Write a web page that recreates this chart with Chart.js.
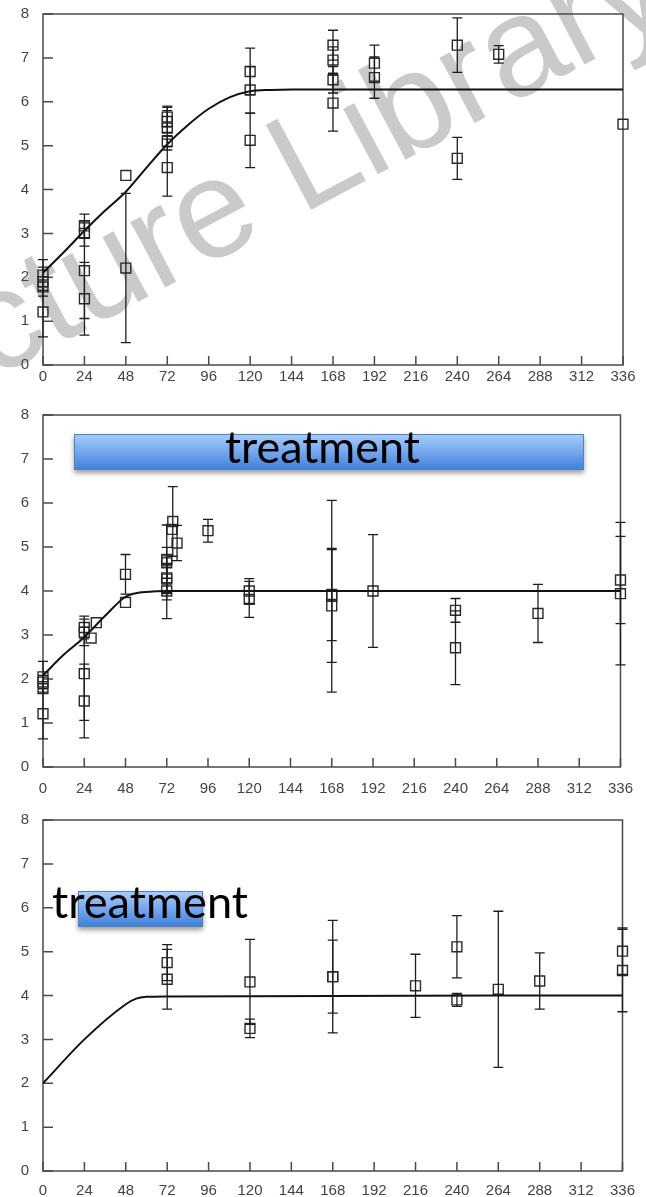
<!DOCTYPE html>
<html>
<head>
<meta charset="utf-8">
<script src="https://cdn.jsdelivr.net/npm/chart.js@4.4.1/dist/chart.umd.min.js"></script>
<style>
  body { margin: 0; background: #fff; width: 646px; height: 1197px; overflow: hidden; position: relative; }
  canvas { position: absolute; left: 0; }
</style>
</head>
<body>
<canvas id="mark" width="646" height="1197" style="top:0"></canvas>
<canvas id="c1" width="646" height="401" style="top:-9px"></canvas>
<canvas id="c2" width="646" height="405" style="top:392px"></canvas>
<canvas id="c3" width="646" height="400" style="top:797px"></canvas>
<canvas id="over" width="646" height="1197" style="top:0"></canvas>
<script>
// ---- axis ticks
var xTicks = [0, 24, 48, 72, 96, 120, 144, 168, 192, 216, 240, 264, 288, 312, 336];
var yTicks = [0, 1, 2, 3, 4, 5, 6, 7, 8];

// ---- panel 1 (top)
var p1Hours  = [0, 0, 0, 0, 24, 24, 24, 24, 48, 48, 72, 72, 72, 72, 72, 120, 120, 120, 168, 168, 168, 168, 192, 192, 240, 240, 264, 336];
var p1Values = [2.05, 1.9, 1.78, 1.21, 3.17, 3.0, 2.15, 1.51, 4.32, 2.21, 5.65, 5.55, 5.4, 5.1, 4.5, 6.69, 6.27, 5.12, 7.29, 6.95, 6.5, 5.97, 6.88, 6.55, 7.29, 4.71, 7.08, 5.49];
var p1Errors = [0.35, 0.33, 0, 0.57, 0.27, 0.29, 1.09, 0.83, 0, 1.7, 0.22, 0.25, 0.5, 0.13, 0.65, 0.53, 0.53, 0.62, 0.34, 0.3, 0.3, 0.64, 0.41, 0.47, 0.62, 0.48, 0.2, 0];
var p1CurveHours  = [0, 12, 24, 36, 48, 60, 72, 84, 96, 108, 120, 132, 144, 336];
var p1CurveValues = [2.1, 2.57, 3.06, 3.52, 3.95, 4.5, 5.03, 5.47, 5.84, 6.1, 6.24, 6.27, 6.28, 6.28];

// ---- panel 2 (middle)
var p2Hours  = [0, 0, 0, 0, 24, 24, 28, 31, 24, 24, 48, 48, 72, 72, 72, 72, 72, 75.5, 75, 78, 96, 120, 120, 168, 168, 168, 192, 240, 240, 288, 336, 336];
var p2Values = [2.05, 1.93, 1.78, 1.21, 3.17, 3.06, 2.93, 3.28, 2.12, 1.5, 4.38, 3.74, 4.72, 4.64, 4.3, 4.27, 4.0, 5.58, 5.4, 5.09, 5.37, 4.0, 3.81, 3.92, 3.88, 3.66, 4.0, 3.56, 2.71, 3.49, 4.25, 3.94];
var p2Errors = [0.35, 0.15, 0, 0.57, 0.26, 0.3, 0, 0, 1.06, 0.84, 0.45, 0, 0.78, 0.35, 0.5, 0.3, 0.63, 0.79, 0, 0.4, 0.26, 0.28, 0.41, 1.05, 2.18, 1.28, 1.28, 0.27, 0.84, 0.66, 0.99, 1.62];
var p2CurveHours  = [0, 12, 24, 36, 48, 54, 60, 72, 336];
var p2CurveValues = [2.08, 2.55, 2.95, 3.43, 3.87, 3.95, 3.98, 4.0, 4.0];

// ---- panel 3 (bottom)
var p3Hours  = [72, 72, 120, 120, 168, 168, 216, 240, 240, 264, 288, 336, 336];
var p3Values = [4.75, 4.37, 4.31, 3.25, 4.43, 4.43, 4.22, 5.11, 3.9, 4.14, 4.33, 5.01, 4.57];
var p3Errors = [0.41, 0.68, 0.97, 0.21, 1.28, 0.83, 0.72, 0.71, 0.15, 1.78, 0.64, 0.53, 0.94];
var p3CurveHours  = [0, 24, 48, 54, 60, 72, 336];
var p3CurveValues = [2.0, 3.0, 3.8, 3.93, 3.97, 3.98, 4.0];

// frame round the plot area + inward ticks
var framePlugin = {
    id: 'frame',
    beforeDatasetsDraw: function (chart) {
        var ctx = chart.ctx, a = chart.chartArea;
        var xs = chart.scales.x, ys = chart.scales.y;
        ctx.save();
        ctx.strokeStyle = '#4a4a4a';
        ctx.lineWidth = 1.5;
        ctx.strokeRect(a.left, a.top, a.right - a.left, a.bottom - a.top);
        ctx.beginPath();
        xTicks.forEach(function (t) {
            var px = xs.getPixelForValue(t);
            ctx.moveTo(px, a.bottom);
            ctx.lineTo(px, a.bottom - 9);
        });
        yTicks.forEach(function (t) {
            var py = ys.getPixelForValue(t);
            ctx.moveTo(a.left, py);
            ctx.lineTo(a.left + 10, py);
        });
        ctx.stroke();
        ctx.restore();
    }
};

// vertical error bars with caps
var errorPlugin = {
    id: 'errorBars',
    afterDatasetsDraw: function (chart) {
        var ctx = chart.ctx;
        var xs = chart.scales.x, ys = chart.scales.y;
        chart.data.datasets.forEach(function (ds) {
            if (!ds.errors) return;
            ctx.save();
            ctx.strokeStyle = '#1e1e1e';
            ctx.lineWidth = 1.3;
            ds.data.forEach(function (p, i) {
                var e = ds.errors[i];
                if (!e) return;
                var px = xs.getPixelForValue(p.x);
                var top = ys.getPixelForValue(p.y + e);
                var bot = ys.getPixelForValue(p.y - e);
                ctx.beginPath();
                ctx.moveTo(px, top); ctx.lineTo(px, bot);
                ctx.moveTo(px - 5, top); ctx.lineTo(px + 5, top);
                ctx.moveTo(px - 5, bot); ctx.lineTo(px + 5, bot);
                ctx.stroke();
            });
            ctx.restore();
        });
    }
};

function toPoints(xs, ys) {
    return xs.map(function (x, i) { return { x: x, y: ys[i] }; });
}

function makePanel(id, hours, values, errors, curveX, curveY, padTop, xHeight, xPad) {
    return new Chart(document.getElementById(id), {
        type: 'scatter',
        data: {
            datasets: [
                {
                    type: 'line',
                    data: toPoints(curveX, curveY),
                    borderColor: '#111',
                    borderWidth: 2,
                    pointRadius: 0,
                    cubicInterpolationMode: 'monotone',
                    fill: false
                },
                {
                    data: toPoints(hours, values),
                    errors: errors,
                    pointStyle: 'rect',
                    pointRadius: 7,
                    borderColor: '#2a2a2a',
                    borderWidth: 1.4,
                    backgroundColor: 'rgba(0,0,0,0)',
                    clip: false
                }
            ]
        },
        options: {
            responsive: false,
            animation: false,
            events: [],
            layout: { padding: { top: padTop, right: 23, left: 0, bottom: 0 } },
            plugins: { legend: { display: false }, tooltip: { enabled: false } },
            scales: {
                x: {
                    type: 'linear', min: 0, max: 336,
                    afterBuildTicks: function (s) { s.ticks = xTicks.map(function (v) { return { value: v }; }); },
                    grid: { display: false, drawTicks: false },
                    border: { display: false },
                    ticks: { color: '#444', font: { family: 'Liberation Sans', size: 15 }, padding: xPad, maxRotation: 0, autoSkip: false },
                    afterFit: function (s) { s.height = xHeight; }
                },
                y: {
                    min: 0, max: 8,
                    afterBuildTicks: function (s) { s.ticks = yTicks.map(function (v) { return { value: v }; }); },
                    grid: { display: false, drawTicks: false },
                    border: { display: false },
                    ticks: { color: '#444', font: { family: 'Liberation Sans', size: 15 }, padding: 14 },
                    afterFit: function (s) { s.width = 43; }
                }
            }
        },
        plugins: [framePlugin, errorPlugin]
    });
}

// watermark under the charts
function drawMark() {
    var ctx = document.getElementById('mark').getContext('2d');
    ctx.save();
    ctx.fillStyle = '#cacaca';
    ctx.font = '140px "Liberation Sans"';
    ctx.translate(-118, 438);
    ctx.rotate(-28 * Math.PI / 180);
    ctx.fillText('Picture Library', 0, 0);
    ctx.restore();
}

// "treatment" boxes over the charts
function drawBox(ctx, x, y, w, h) {
    ctx.save();
    ctx.shadowColor = 'rgba(0,0,0,0.4)';
    ctx.shadowBlur = 5;
    ctx.shadowOffsetY = 3;
    var g = ctx.createLinearGradient(0, y, 0, y + h);
    g.addColorStop(0, '#a8cdfb');
    g.addColorStop(0.5, '#74a7ee');
    g.addColorStop(1, '#3e7ed6');
    ctx.fillStyle = g;
    ctx.fillRect(x, y, w, h);
    ctx.restore();
    ctx.save();
    ctx.strokeStyle = '#4f82c4';
    ctx.lineWidth = 1;
    ctx.strokeRect(x + 0.5, y + 0.5, w - 1, h - 1);
    ctx.restore();
}

function drawLabel(ctx, text, left, baseline, width) {
    ctx.save();
    ctx.font = '40px Lato';
    var size = 40 * width / ctx.measureText(text).width;
    ctx.font = size.toFixed(1) + 'px Lato';
    ctx.fillStyle = '#000';
    ctx.textBaseline = 'alphabetic';
    ctx.fillText(text, left, baseline);
    ctx.restore();
}

function drawOverlay() {
    var ctx = document.getElementById('over').getContext('2d');
    drawBox(ctx, 74, 434, 510, 36);
    drawLabel(ctx, 'treatment', 225, 463, 195);
    drawBox(ctx, 78, 891, 125, 36);
    drawLabel(ctx, 'treatment', 52, 918, 196);
}

drawMark();
makePanel('c1', p1Hours, p1Values, p1Errors, p1CurveHours, p1CurveValues, 21, 27, 3);
makePanel('c2', p2Hours, p2Values, p2Errors, p2CurveHours, p2CurveValues, 21, 30, 13);
makePanel('c3', p3Hours, p3Values, p3Errors, p3CurveHours, p3CurveValues, 21, 26, 11);

document.fonts.load('40px Lato').then(drawOverlay, drawOverlay);
</script>
</body>
</html>
